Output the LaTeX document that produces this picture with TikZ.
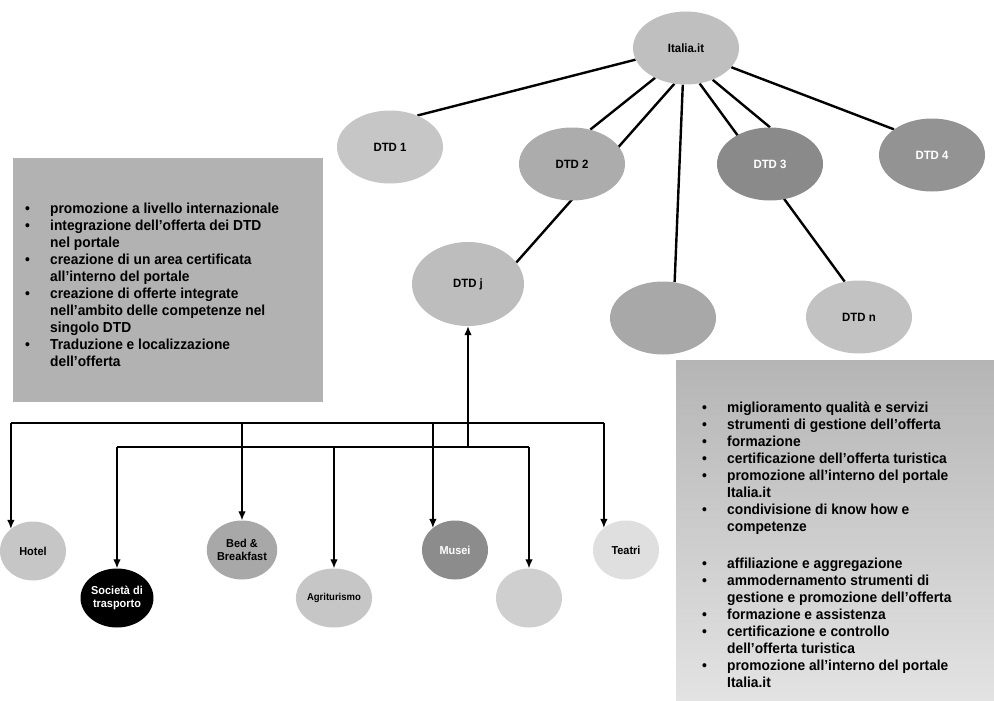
\documentclass[tikz,border=0pt]{standalone}
\usepackage{fontspec}
\setmainfont{Liberation Sans}[FakeStretch=0.95]
\usepackage{tikz}
\usetikzlibrary{shapes,arrows,arrows.meta,positioning,backgrounds,calc}
\tikzset{
    dtd/.style={ellipse, fill=gray!50, minimum width=106pt, minimum height=73pt, inner sep=0pt, font=\fontsize{12}{13}\selectfont\bfseries},
    member/.style={ellipse, fill=gray!45, minimum width=66pt, minimum height=59pt, inner sep=0pt, align=center, font=\fontsize{11.5}{13}\selectfont\bfseries},
    infobox/.style={rectangle, fill=gray!60, inner sep=0pt},
    infotext/.style={inner sep=0pt, align=left, anchor=north west, font=\fontsize{14.5}{17}\selectfont\bfseries},
    link/.style={draw, line width=2.4pt},
    line/.style={draw, line width=1.3pt, -{Latex[length=9pt,width=7.5pt]}}
}
\newcommand{\bul}{\makebox[25pt][l]{\textbullet}}
\newcommand{\nobul}{\makebox[25pt][l]{}}

\begin{document}
\begin{tikzpicture}[x=1pt, y=-1pt]
    \useasboundingbox (0,0) rectangle (994,701);

    % Portal and regional districts
    \node [dtd, fill=gray!50] (italia) at (686,48) {Italia.it};
    \node [dtd, fill=gray!45] (dtd1) at ([shift={(-296,99)}]italia) {DTD 1};
    \node [dtd, fill=gray!65] (dtd2) at ([shift={(-114,116)}]italia) {DTD 2};
    \node [dtd, fill=gray!92, text=white] (dtd3) at ([shift={(84,116)}]italia) {DTD 3};
    \node [dtd, fill=gray!85, text=white] (dtd4) at ([shift={(246,107)}]italia) {DTD 4};
    \node [dtd, fill=gray!52, minimum width=112pt, minimum height=84pt] (dtdj) at ([shift={(-218,236)}]italia) {DTD j};
    \node [dtd, fill=gray!68] (dtdx) at ([shift={(-23,270)}]italia) {};
    \node [dtd, fill=gray!48] (dtdn) at ([shift={(173,269)}]italia) {DTD n};

    % Local operators
    \node [member] (hotel) at ([shift={(-435,267)}]dtdj) {Hotel};
    \node [member, fill=black, text=white] (societa) at ([shift={(-351,314)}]dtdj) {Società di\\trasporto};
    \node [member, fill=gray!68] (bnb) at ([shift={(-226,266)}]dtdj) {Bed \&\\Breakfast};
    \node [member, font=\fontsize{10}{11}\selectfont\bfseries] (agri) at ([shift={(-134,314)}]dtdj) {Agriturismo};
    \node [member, fill=gray!90, text=white] (musei) at ([shift={(-13,266)}]dtdj) {Musei};
    \node [member, fill=gray!38] (localx) at ([shift={(61,314)}]dtdj) {};
    \node [member, fill=gray!25] (teatri) at ([shift={(158,266)}]dtdj) {Teatri};

    % Portal links
    \begin{scope}[on background layer]
        \path [link] (italia.193) -- (dtd1.49);
        \path [link] (italia.-136) -- (dtd2.62);
        \path [link] (italia.-108) -- (dtdj.24);
        \path [link] (italia.-95) -- (dtdx.72);
        \path [link] (italia.-50) -- (dtd3.90);
        \path [link] (italia.-69) -- (dtdn.112);
        \path [link] (italia.-23) -- (dtd4.146);
    \end{scope}

    % Operator buses
    \coordinate (bustop) at (0,423);
    \coordinate (buslow) at (0,447);
    \path [line] (dtdj.south |- buslow) -- (dtdj.south);
    \draw [line width=1.3pt] (hotel.135 |- bustop) -- (teatri.135 |- bustop);
    \draw [line width=1.3pt] (societa.north |- buslow) -- (localx.north |- buslow);
    \foreach \n/\a in {hotel/135, bnb/90, musei/135, teatri/135}
        \path [line] (\n.\a |- bustop) -- (\n.\a);
    \foreach \n in {societa, agri, localx}
        \path [line] (\n.north |- buslow) -- (\n.north);

    % District services
    \node [infobox, minimum width=310pt, minimum height=244pt, anchor=north west] (dtdbox) at (13,158) {};
    \node [infotext] (dtdtext) at ([shift={(12,45)}]dtdbox.north west) {
        \bul promozione a livello internazionale\\
        \bul integrazione dell'offerta dei DTD\\
        \nobul nel portale\\
        \bul creazione di un area certificata\\
        \nobul all'interno del portale\\
        \bul creazione di offerte integrate\\
        \nobul nell'ambito delle competenze nel\\
        \nobul singolo DTD\\
        \bul Traduzione e localizzazione\\
        \nobul dell'offerta
    };

    % Operator services
    \node [infobox, top color=gray!58, bottom color=gray!22, minimum width=318pt, minimum height=341pt, anchor=north west] (opbox) at (676,360) {};
    \node [infotext] (optext) at ([shift={(26,42)}]opbox.north west) {
        \bul miglioramento qualità e servizi\\
        \bul strumenti di gestione dell'offerta\\
        \bul formazione\\
        \bul certificazione dell'offerta turistica\\
        \bul promozione all'interno del portale\\
        \nobul Italia.it\\
        \bul condivisione di know how e\\
        \nobul competenze\\[20pt]
        \bul affiliazione e aggregazione\\
        \bul ammodernamento strumenti di\\
        \nobul gestione e promozione dell'offerta\\
        \bul formazione e assistenza\\
        \bul certificazione e controllo\\
        \nobul dell'offerta turistica\\
        \bul promozione all'interno del portale\\
        \nobul Italia.it
    };
\end{tikzpicture}
\end{document}
